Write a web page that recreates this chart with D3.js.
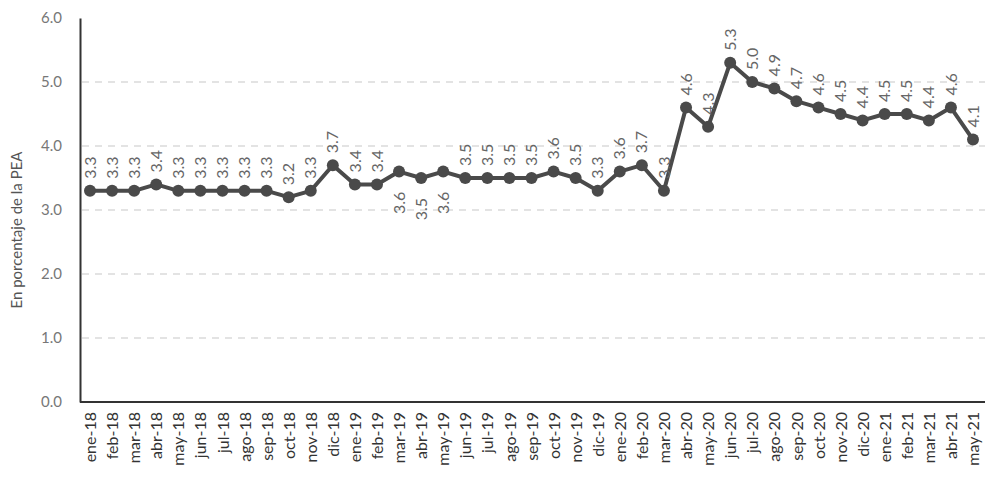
<!DOCTYPE html>
<html>
<head>
<meta charset="utf-8">
<script src="https://cdn.jsdelivr.net/npm/d3@7"></script>
<style>
  body { margin: 0; background: #fff; }
  text { font-family: Lato, "Open Sans", sans-serif; }
</style>
</head>
<body>
<svg id="chart" width="987" height="491"></svg>
<script>
const months = [
  "ene-18","feb-18","mar-18","abr-18","may-18","jun-18","jul-18","ago-18","sep-18","oct-18","nov-18","dic-18",
  "ene-19","feb-19","mar-19","abr-19","may-19","jun-19","jul-19","ago-19","sep-19","oct-19","nov-19","dic-19",
  "ene-20","feb-20","mar-20","abr-20","may-20","jun-20","jul-20","ago-20","sep-20","oct-20","nov-20","dic-20",
  "ene-21","feb-21","mar-21","abr-21","may-21"
];
const values = [
  3.3,3.3,3.3,3.4,3.3,3.3,3.3,3.3,3.3,3.2,3.3,3.7,
  3.4,3.4,3.6,3.5,3.6,3.5,3.5,3.5,3.5,3.6,3.5,3.3,
  3.6,3.7,3.3,4.6,4.3,5.3,5.0,4.9,4.7,4.6,4.5,4.4,
  4.5,4.5,4.4,4.6,4.1
];
// months whose value label sits below the point
const labelsBelow = ["mar-19","abr-19","may-19"];
const yTicks = [0, 1, 2, 3, 4, 5, 6];

const data = months.map((m, i) => ({ month: m, value: values[i] }));

const svg = d3.select("#chart");
const mLeft = 80, mRight = 985, mTop = 18, mBottom = 402;

const x = d3.scalePoint().domain(months).range([90, 973]);
const y = d3.scaleLinear().domain([0, 6]).range([mBottom, mTop]);

// dashed gridlines
svg.append("g")
  .selectAll("line")
  .data(yTicks.filter(t => t > 0 && t < 6))
  .enter()
  .append("line")
  .attr("x1", mLeft + 2)
  .attr("x2", mRight)
  .attr("y1", d => y(d))
  .attr("y2", d => y(d))
  .attr("stroke", "#dadada")
  .attr("stroke-width", 1.5)
  .attr("stroke-dasharray", "7,6");

// y axis
const yAxis = svg.append("g")
  .attr("transform", `translate(${mLeft},0)`)
  .call(d3.axisLeft(y).tickValues(yTicks).tickFormat(d3.format(".1f")).tickSize(0).tickPadding(18));
yAxis.select(".domain").attr("stroke", "#333").attr("stroke-width", 2);
yAxis.selectAll("text").attr("fill", "#777").style("font-size", "15px").style("font-family", "Lato, sans-serif");

// x axis
const xAxis = svg.append("g")
  .attr("transform", `translate(0,${mBottom})`)
  .call(d3.axisBottom(x).tickSize(0).tickPadding(0));
xAxis.select(".domain").attr("d", `M${mLeft},0H${mRight}`).attr("stroke", "#333").attr("stroke-width", 2);
xAxis.selectAll("text")
  .attr("transform", "rotate(-90)")
  .attr("text-anchor", "end")
  .attr("x", -10)
  .attr("y", 0)
  .attr("dy", "0.35em")
  .attr("fill", "#333")
  .style("font-size", "16px")
  .style("font-family", "Lato, sans-serif");

// y title
svg.append("text")
  .attr("transform", "translate(22,230) rotate(-90)")
  .attr("text-anchor", "middle")
  .attr("fill", "#555")
  .style("font-size", "15px")
  .text("En porcentaje de la PEA");

// line
const line = d3.line().x(d => x(d.month)).y(d => y(d.value));
svg.append("path")
  .datum(data)
  .attr("fill", "none")
  .attr("stroke", "#4a4a4a")
  .attr("stroke-width", 4)
  .attr("stroke-linejoin", "round")
  .attr("d", line);

svg.append("g")
  .selectAll("circle")
  .data(data)
  .enter()
  .append("circle")
  .attr("cx", d => x(d.month))
  .attr("cy", d => y(d.value))
  .attr("r", 6)
  .attr("fill", "#4a4a4a");

// value labels
svg.append("g")
  .selectAll("text")
  .data(data)
  .enter()
  .append("text")
  .attr("transform", d => {
    const below = labelsBelow.includes(d.month);
    const yy = below ? y(d.value) + 20 : y(d.value) - 12;
    return `translate(${x(d.month)},${yy}) rotate(-90)`;
  })
  .attr("text-anchor", d => labelsBelow.includes(d.month) ? "end" : "start")
  .attr("dy", "0.35em")
  .attr("fill", "#666")
  .style("font-size", "16px")
  .text(d => d3.format(".1f")(d.value));
</script>
</body>
</html>
